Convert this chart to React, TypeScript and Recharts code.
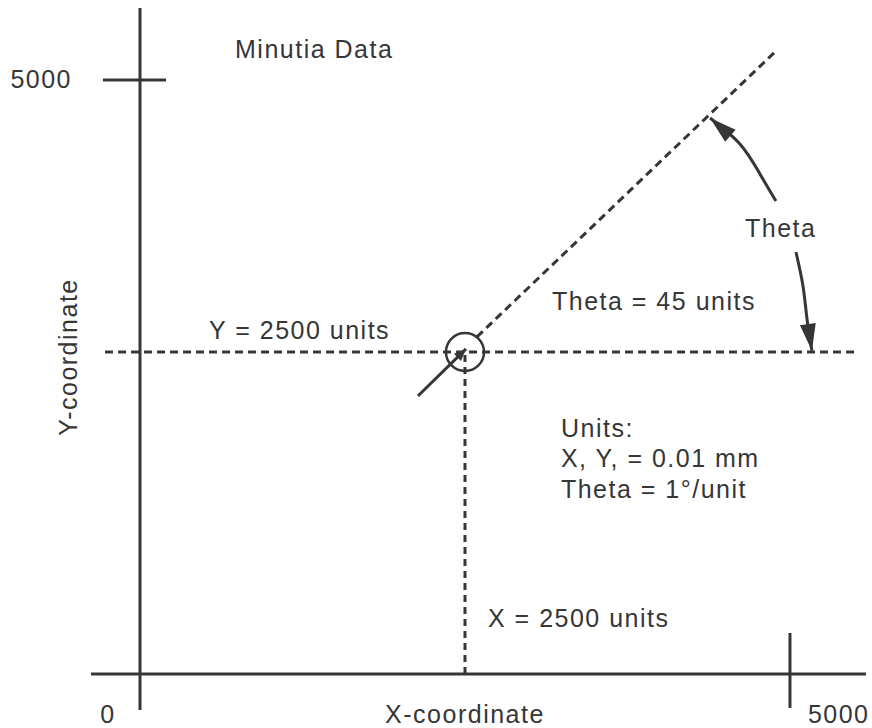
import { ComposedChart, XAxis, YAxis, Line, ReferenceLine, ReferenceDot } from 'recharts';

// all values below are in data units (0..5000 on both axes)
const X_DOMAIN = [-1077, 5631];
const Y_DOMAIN = [-455, 5673];

const AXIS_TICK = 5000;
const xAxisSpan = [-377, 5585];
const yAxisSpan = [-303, 5606];
const xTickSpan = [-286, 345];
const yTickSpan = [-285, 200];

// the sketch puts the minutia a little above mid-height
const minutiaX = 2500;
const minutiaY = 2710;
const horizontalGuide = [-269, 5500];

const thetaRay = [
    { x: 2592, y: 2837 },
    { x: 4885, y: 5236 },
];
const ridgeStroke = [
    { x: 2138, y: 2340 },
    { x: 2508, y: 2736 },
];
const thetaArcUpper = [
    { x: 4892, y: 3981 },
    { x: 4769, y: 4209 },
    { x: 4615, y: 4461 },
    { x: 4385, y: 4680 },
];
const thetaArcLower = [
    { x: 5046, y: 3552 },
    { x: 5100, y: 3266 },
    { x: 5131, y: 2988 },
    { x: 5169, y: 2720 },
];

const tickLabels = [
    { text: '0', x: -246, y: -412, anchor: 'middle' },
    { text: '5000', x: 5138, y: -412, anchor: 'start' },
    { text: '5000', x: -523, y: 4933, anchor: 'end' },
];

const notes = [
    { text: 'Minutia Data', x: 731, y: 5185 },
    { text: 'Y = 2500 units', x: 531, y: 2820 },
    { text: 'Theta = 45 units', x: 3169, y: 3064 },
    { text: 'Theta', x: 4654, y: 3678 },
    { text: 'Units:', x: 3238, y: 1995 },
    { text: 'X, Y, = 0.01 mm', x: 3238, y: 1742 },
    { text: 'Theta = 1°/unit', x: 3238, y: 1481 },
    { text: 'X = 2500 units', x: 2677, y: 396 },
];

const INK = '#363636';
const FONT = "'Liberation Sans', Arial, sans-serif";
const textStyle = { fontFamily: FONT, fontSize: 25, letterSpacing: 1.5, fill: INK };

const arrowHead = (props: any) => {
    const { cx, cy, index, points } = props;
    if (!points || index !== points.length - 1) return <g key={`d-${index}`} />;
    const prev = points[index - 1];
    const ang = Math.atan2(cy - prev.y, cx - prev.x);
    const big = points.length > 2;
    const len = big ? 27 : 12;
    const half = big ? 8 : 5;
    const bx = cx - len * Math.cos(ang);
    const by = cy - len * Math.sin(ang);
    const px = -Math.sin(ang) * half;
    const py = Math.cos(ang) * half;
    return (
        <polygon
            key={`d-${index}`}
            points={`${cx},${cy} ${bx + px},${by + py} ${bx - px},${by - py}`}
            fill={INK}
        />
    );
};

const App = () => {
    return (
        <div style={{ width: 872, height: 728, background: '#fff' }}>
            <style>{'body{margin:0}'}</style>
            <ComposedChart width={872} height={728} margin={{ top: 0, right: 0, bottom: 0, left: 0 }}>
                <XAxis type="number" dataKey="x" domain={X_DOMAIN} allowDataOverflow hide />
                <YAxis type="number" dataKey="y" domain={Y_DOMAIN} allowDataOverflow hide />

                {/* axes through the origin */}
                <ReferenceLine
                    segment={[{ x: xAxisSpan[0], y: 0 }, { x: xAxisSpan[1], y: 0 }]}
                    stroke={INK}
                    strokeWidth={3}
                    ifOverflow="visible"
                />
                <ReferenceLine
                    segment={[{ x: 0, y: yAxisSpan[0] }, { x: 0, y: yAxisSpan[1] }]}
                    stroke={INK}
                    strokeWidth={3}
                    ifOverflow="visible"
                />
                <ReferenceLine
                    segment={[{ x: AXIS_TICK, y: xTickSpan[0] }, { x: AXIS_TICK, y: xTickSpan[1] }]}
                    stroke={INK}
                    strokeWidth={3}
                    ifOverflow="visible"
                />
                <ReferenceLine
                    segment={[{ x: yTickSpan[0], y: AXIS_TICK }, { x: yTickSpan[1], y: AXIS_TICK }]}
                    stroke={INK}
                    strokeWidth={3}
                    ifOverflow="visible"
                />

                {/* guides to the minutia */}
                <ReferenceLine
                    segment={[{ x: horizontalGuide[0], y: minutiaY }, { x: horizontalGuide[1], y: minutiaY }]}
                    stroke={INK}
                    strokeWidth={3}
                    strokeDasharray="8 5"
                    ifOverflow="visible"
                />
                <ReferenceLine
                    segment={[{ x: minutiaX, y: 0 }, { x: minutiaX, y: minutiaY }]}
                    stroke={INK}
                    strokeWidth={3}
                    strokeDasharray="7 5"
                    ifOverflow="visible"
                />
                <ReferenceLine
                    segment={[thetaRay[0], thetaRay[1]]}
                    stroke={INK}
                    strokeWidth={3}
                    strokeDasharray="8 5"
                    ifOverflow="visible"
                />
                <ReferenceDot
                    x={minutiaX}
                    y={minutiaY}
                    r={19}
                    fill="none"
                    stroke={INK}
                    strokeWidth={2.5}
                    ifOverflow="visible"
                />

                <Line
                    data={ridgeStroke}
                    dataKey="y"
                    type="linear"
                    stroke={INK}
                    strokeWidth={3}
                    dot={arrowHead}
                    activeDot={false}
                    isAnimationActive={false}
                />
                <Line
                    data={thetaArcUpper}
                    dataKey="y"
                    type="natural"
                    stroke={INK}
                    strokeWidth={3}
                    dot={arrowHead}
                    activeDot={false}
                    isAnimationActive={false}
                />
                <Line
                    data={thetaArcLower}
                    dataKey="y"
                    type="natural"
                    stroke={INK}
                    strokeWidth={3}
                    dot={arrowHead}
                    activeDot={false}
                    isAnimationActive={false}
                />

                {tickLabels.map((t, i) => (
                    <ReferenceDot
                        key={`tick-${i}`}
                        x={t.x}
                        y={t.y}
                        r={0}
                        ifOverflow="visible"
                        shape={(p: any) => (
                            <text x={p.cx} y={p.cy} textAnchor={t.anchor} style={textStyle}>
                                {t.text}
                            </text>
                        )}
                    />
                ))}
                {notes.map((n) => (
                    <ReferenceDot
                        key={n.text}
                        x={n.x}
                        y={n.y}
                        r={0}
                        ifOverflow="visible"
                        shape={(p: any) => (
                            <text x={p.cx} y={p.cy} textAnchor="start" style={textStyle}>
                                {n.text}
                            </text>
                        )}
                    />
                ))}

                {/* axis titles */}
                <ReferenceDot
                    x={minutiaX}
                    y={-412}
                    r={0}
                    ifOverflow="visible"
                    shape={(p: any) => (
                        <text x={p.cx} y={p.cy} textAnchor="middle" style={textStyle}>
                            X-coordinate
                        </text>
                    )}
                />
                <ReferenceDot
                    x={-485}
                    y={2668}
                    r={0}
                    ifOverflow="visible"
                    shape={(p: any) => (
                        <text
                            x={p.cx}
                            y={p.cy}
                            textAnchor="middle"
                            transform={`rotate(-90, ${p.cx}, ${p.cy})`}
                            style={textStyle}
                        >
                            Y-coordinate
                        </text>
                    )}
                />
            </ComposedChart>
        </div>
    );
};

export default App;
